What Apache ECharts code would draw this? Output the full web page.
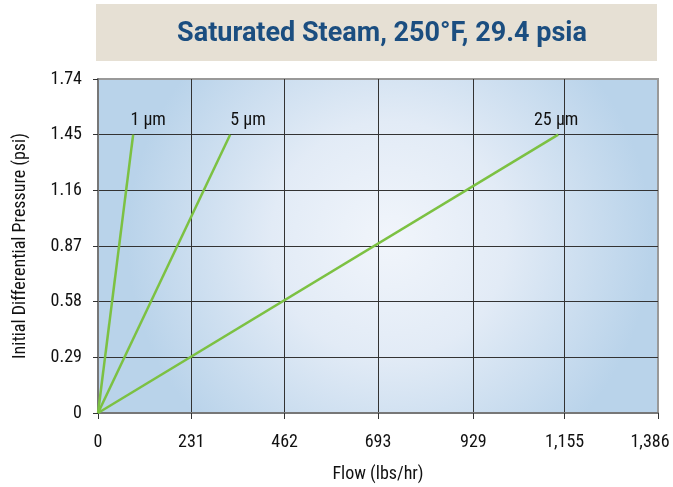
<!DOCTYPE html>
<html>
<head>
<meta charset="utf-8">
<script src="https://cdn.jsdelivr.net/npm/echarts@6/dist/echarts.min.js"></script>
<style>
  html, body { margin: 0; padding: 0; background: #fff; }
  #chart { width: 673px; height: 487px; }
</style>
</head>
<body>
<div id="chart"></div>
<script>
var seriesNames = ['1 µm', '5 µm', '25 µm'];
var endFlow = [87, 327, 1139];
var endPressure = [1.45, 1.45, 1.45];
var xTicks = [0, 231, 462, 693, 929, 1155, 1386];
var yTicks = [0, 0.29, 0.58, 0.87, 1.16, 1.45, 1.74];

var font = "'Liberation Sans Narrow', 'Roboto Condensed', 'DejaVu Sans Condensed', 'Roboto', sans-serif";
var labelOffsets = [[15, 0], [18, 0], [-2, 0]];

function init() {
  var chart = echarts.init(document.getElementById('chart'));

  var series = seriesNames.map(function (name, i) {
    return {
      name: name,
      type: 'line',
      symbol: 'circle',
      symbolSize: 0,
      lineStyle: { color: '#7cc142', width: 2.5 },
      data: [
        { value: [0, 0], label: { show: false } },
        { value: [endFlow[i], endPressure[i]],
          label: {
            show: true,
            position: 'top',
            distance: 5,
            offset: labelOffsets[i],
            formatter: name,
            color: '#111',
            fontSize: 18,
            fontFamily: font
          }
        }
      ]
    };
  });

  chart.setOption({
    animation: false,
    graphic: [{
      type: 'rect',
      left: 96, top: 4,
      shape: { width: 561, height: 57 },
      style: { fill: '#e6e0d4' },
      z: -1
    }],
    title: {
      text: 'Saturated Steam, 250°F, 29.4 psia',
      left: 377,
      textAlign: 'center',
      top: 16,
      textStyle: { color: '#1b4e80', fontSize: 27, fontWeight: 'bold', fontFamily: 'Roboto, sans-serif' }
    },
    grid: {
      left: 98, right: 15, top: 79, bottom: 74,
      outerBoundsMode: 'none',
      show: true,
      borderColor: '#999',
      borderWidth: 2,
      backgroundColor: {
        type: 'radial', x: 0.52, y: 0.48, r: 0.78,
        colorStops: [
          { offset: 0, color: '#f1f5fb' },
          { offset: 0.45, color: '#e2ebf6' },
          { offset: 1, color: '#b9d3ea' }
        ]
      }
    },
    xAxis: {
      type: 'value',
      min: 0, max: 1386,
      name: 'Flow (lbs/hr)',
      nameLocation: 'middle',
      nameGap: 52,
      nameTextStyle: { color: '#111', fontSize: 18, fontFamily: font },
      axisLine: { show: true, lineStyle: { color: '#777', width: 2 } },
      axisTick: { show: true, customValues: xTicks, length: 6, lineStyle: { color: '#333' } },
      axisLabel: {
        customValues: xTicks,
        margin: 20,
        color: '#111', fontSize: 18, fontFamily: font,
        formatter: function (v) {
          var s = v.toLocaleString('en-US');
          return v === xTicks[xTicks.length - 1] ? '{last|' + s + '}' : s;
        },
        rich: {
          last: { color: '#111', fontSize: 18, fontFamily: font, padding: [0, 16, 0, 0] }
        }
      },
      splitLine: { show: true, showMinLine: false, showMaxLine: false, lineStyle: { color: '#333', width: 1 } }
    },
    yAxis: {
      type: 'value',
      min: 0, max: 1.74, interval: 0.29,
      name: 'Initial Differential Pressure (psi)',
      nameLocation: 'middle',
      nameGap: 69,
      nameTextStyle: { color: '#111', fontSize: 18, fontFamily: font },
      axisLine: { show: true, lineStyle: { color: '#777', width: 2 } },
      axisTick: { show: true, length: 5, lineStyle: { color: '#333' } },
      axisLabel: {
        customValues: yTicks,
        margin: 16,
        color: '#111', fontSize: 18, fontFamily: font,
        formatter: function (v) { return v === 0 ? '0' : v.toFixed(2); }
      },
      splitLine: { show: true, showMinLine: false, showMaxLine: false, lineStyle: { color: '#333', width: 1 } }
    },
    series: series
  });
}

init();
</script>
</body>
</html>
